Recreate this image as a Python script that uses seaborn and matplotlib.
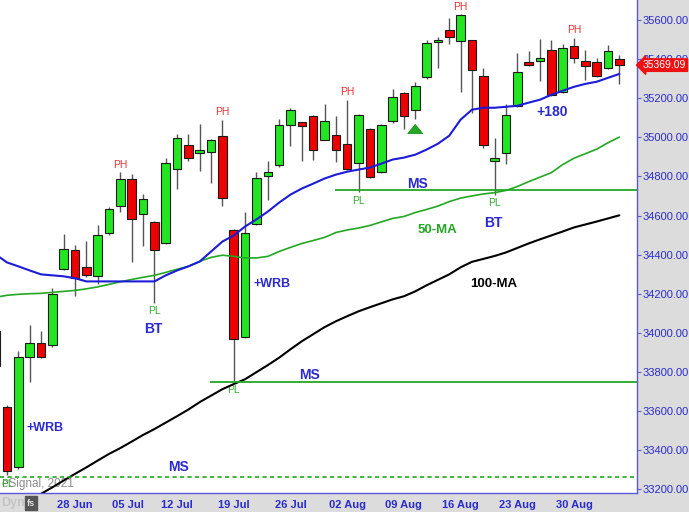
import matplotlib
matplotlib.use('Agg')
import matplotlib.pyplot as plt
import numpy as np
import pandas as pd
import seaborn as sns

sns.set_style('white')
plt.rcParams['font.family'] = ['Liberation Sans', 'DejaVu Sans']

# trading days, 17 Jun 2021 .. 03 Sep 2021 (05 Jul market holiday)
dates = pd.bdate_range('2021-06-17', '2021-09-03', freq='C', holidays=['2021-07-05'])

opens = [34010, 33620, 33313, 33877, 33947, 33938, 34328, 34426, 34338, 34290,
         34512, 34648, 34787, 34609, 34566, 34461, 34840, 34959, 34920, 34925,
         35008, 34525, 33981, 34559, 34804, 34857, 35061, 35078, 35110, 34988,
         35012, 34967, 34869, 35042, 34821, 35081, 35226, 35137, 35306, 35486,
         35549, 35493, 35498, 35311, 34877, 34920, 35161, 35384, 35391, 35447,
         35234, 35467, 35391, 35387, 35354, 35399]
highs = [34060, 33630, 33908, 34040, 34008, 34231, 34503, 34447, 34469, 34551,
         34642, 34821, 34814, 34712, 34570, 34894, 35017, 35017, 35069, 34992,
         35090, 34530, 34617, 34821, 34877, 35093, 35150, 35080, 35112, 35171,
         35107, 35192, 35120, 35045, 35070, 35246, 35230, 35285, 35498, 35512,
         35608, 35628, 35500, 35354, 34996, 35171, 35430, 35443, 35501, 35498,
         35476, 35507, 35447, 35404, 35472, 35421]
lows = [33740, 33272, 33305, 33750, 33870, 33930, 34320, 34188, 34287, 34248,
        34500, 34617, 34362, 34443, 34155, 34455, 34733, 34877, 34826, 34767,
        34651, 33750, 33975, 34550, 34678, 34850, 34954, 34881, 34882, 34985,
        34872, 34835, 34719, 34790, 34815, 35075, 35042, 35093, 35300, 35354,
        35476, 35234, 35124, 34945, 34707, 34865, 35155, 35362, 35289, 35210,
        35228, 35379, 35294, 35310, 35350, 35272]
closes = [33830, 33294, 33877, 33947, 33877, 34197, 34430, 34282, 34294, 34500,
          34631, 34787, 34580, 34682, 34423, 34869, 34996, 34894, 34933, 34988,
          34687, 33967, 34508, 34792, 34823, 35061, 35141, 35059, 34933, 35085,
          34937, 34838, 35115, 34795, 35064, 35206, 35107, 35263, 35484, 35500,
          35515, 35626, 35345, 34962, 34894, 35115, 35333, 35370, 35404, 35214,
          35456, 35405, 35365, 35314, 35443, 35369.09]

ma20 = [34401, 34360, 34340, 34319, 34299, 34294, 34289, 34279, 34263, 34263,
        34263, 34263, 34263, 34263, 34263, 34294, 34319, 34340, 34365, 34416,
        34467, 34498, 34544, 34580, 34620, 34666, 34707, 34738, 34763, 34789,
        34809, 34824, 34835, 34845, 34865, 34886, 34896, 34911, 34937, 34967,
        35008, 35090, 35141, 35151, 35151, 35156, 35161, 35177, 35192, 35217,
        35238, 35258, 35273, 35284, 35304, 35324]
ma50 = [34182, 34192, 34197, 34200, 34202, 34207, 34212, 34217, 34225, 34235,
        34248, 34261, 34273, 34284, 34294, 34309, 34325, 34340, 34365, 34386,
        34397, 34391, 34383, 34383, 34391, 34416, 34437, 34457, 34472, 34488,
        34513, 34526, 34536, 34549, 34567, 34585, 34595, 34615, 34631, 34648,
        34671, 34689, 34700, 34710, 34717, 34728, 34748, 34773, 34796, 34819,
        34860, 34893, 34916, 34939, 34972, 35001]
ma100 = [33040, 33075, 33110, 33146, 33177, 33210, 33245, 33279, 33312, 33347,
         33381, 33411, 33444, 33478, 33508, 33541, 33574, 33608, 33646, 33679,
         33712, 33738, 33763, 33799, 33835, 33873, 33916, 33957, 33993, 34029,
         34059, 34085, 34110, 34131, 34151, 34171, 34187, 34212, 34243, 34271,
         34299, 34335, 34363, 34378, 34393, 34411, 34434, 34457, 34478, 34498,
         34518, 34539, 34554, 34569, 34585, 34601]

ms_levels = [33750, 34729, 33263]
tick_labels = ['28 Jun', '05 Jul', '12 Jul', '19 Jul', '26 Jul', '02 Aug',
               '09 Aug', '16 Aug', '23 Aug', '30 Aug']
y_ticks = list(range(33200, 35601, 200))

ph_days = [10, 19, 30, 40, 50]
pl_days = [0, 13, 20, 31, 43]

df = pd.DataFrame({'date': dates, 'open': opens, 'high': highs, 'low': lows,
                   'close': closes, 'ma20': ma20, 'ma50': ma50, 'ma100': ma100})
df['x'] = np.arange(len(df)) - 1

GREEN = '#22e622'
RED = '#ee0000'
BLUE = '#1c1cd8'
MAGREEN = '#22a822'
AXBLUE = '#5a5ae0'
TXTBLUE = '#2a2ad0'

fig = plt.figure(figsize=(6.89, 5.12), dpi=100, facecolor='#dcdcdc')
ax = fig.add_axes([0, 19 / 512, 637 / 689, 493 / 512])
ax.set_facecolor('white')

# candles
up = df['close'] >= df['open']
ax.vlines(df['x'], df['low'], df['high'], color='#555555', lw=1, zorder=2)
ax.bar(df['x'], (df['close'] - df['open']).abs(),
       bottom=df[['open', 'close']].min(axis=1), width=0.76,
       color=np.where(up, GREEN, RED), edgecolor='#1a1a1a', linewidth=0.8, zorder=3)

# moving averages
sns.lineplot(data=df, x='x', y='ma100', ax=ax, color='black', lw=1.5, zorder=4)
sns.lineplot(data=df, x='x', y='ma50', ax=ax, color=MAGREEN, lw=1.2, zorder=4)
sns.lineplot(data=df, x='x', y='ma20', ax=ax, color=BLUE, lw=1.5, zorder=4)

# MS levels
ax.hlines(ms_levels[0], 17.9, 56, color=MAGREEN, lw=1.3, zorder=4)
ax.hlines(ms_levels[1], 28.9, 56, color=MAGREEN, lw=1.3, zorder=4)
ax.axhline(ms_levels[2], color=MAGREEN, lw=1.2, ls=(0, (2.5, 2)), zorder=4)

# PH / PL labels
for d in ph_days:
    ax.annotate('PH', (d, highs[d + 1]), xytext=(0, 2), textcoords='offset points',
                ha='center', va='bottom', color='#ee3333', fontsize=7.5)
for d in pl_days:
    ax.annotate('PL', (d, lows[d + 1]), xytext=(0, -2.5), textcoords='offset points',
                ha='center', va='top', color='#33aa33', fontsize=7.5)

bold = dict(ha='center', va='center', fontweight='bold', zorder=6)
ax.text(3.35, 33515, '+WRB', color=TXTBLUE, fontsize=9, **bold)
ax.text(23.4, 34250, '+WRB', color=TXTBLUE, fontsize=9, **bold)
ax.text(26.7, 33785, 'MS', color=TXTBLUE, fontsize=10, **bold)
ax.text(36.2, 34761, 'MS', color=TXTBLUE, fontsize=10, **bold)
ax.text(15.1, 33316, 'MS', color=TXTBLUE, fontsize=10, **bold)
ax.text(12.92, 34020, 'BT', color=TXTBLUE, fontsize=10, **bold)
ax.text(42.86, 34562, 'BT', color=TXTBLUE, fontsize=10, **bold)
ax.text(37.92, 34526, '50-MA', color=MAGREEN, fontsize=9.5, **bold)
ax.text(42.95, 34250, '100-MA', color='black', fontsize=9.5, **bold)
ax.text(48.06, 35130, '+180', color=TXTBLUE, fontsize=10, **bold)

# green up arrow
ax.annotate('', xy=(36, 35080), xytext=(36, 35012),
            arrowprops=dict(arrowstyle='simple,head_width=0.9,head_length=0.55,tail_width=0.45',
                            fc=MAGREEN, ec='#118811', lw=0.5, mutation_scale=12), zorder=6)

ax.text(0.003, 0.018, 'eSignal, 2021', transform=ax.transAxes, color='#8a8a8a',
        fontsize=8.5, va='center', ha='left', zorder=1)

# axes
ax.set_xlim(-0.62, 55.56)
ax.set_ylim(33181, 35702)
for s in ['top', 'left']:
    ax.spines[s].set_visible(False)
for s in ['right', 'bottom']:
    ax.spines[s].set_color(AXBLUE)
    ax.spines[s].set_linewidth(1)

ax.yaxis.tick_right()
ax.set_yticks(y_ticks)
ax.set_yticklabels([f'{v:.2f}' for v in y_ticks])
ax.tick_params(axis='y', colors=AXBLUE, labelcolor=TXTBLUE, labelsize=8, length=3,
               pad=1, direction='out')

tick_pos = []
for lab in tick_labels:
    d = pd.Timestamp(lab + ' 2021')
    i = int(dates.searchsorted(d)) - 1
    tick_pos.append(i if d in dates else i - 0.3)
ax.set_xticks(tick_pos)
ax.set_xticklabels(tick_labels, fontweight='bold')
ax.tick_params(axis='x', colors=AXBLUE, labelcolor=TXTBLUE, labelsize=8, length=3,
               pad=2, direction='out')
ax.set_xlabel('')
ax.set_ylabel('')

# last price tag
ax.text(1 + 6 / 637, closes[-1], f'{closes[-1]:.2f}', transform=ax.get_yaxis_transform(),
        color='white', fontsize=7.5, va='center', ha='left', clip_on=False, zorder=10,
        bbox=dict(boxstyle='larrow,pad=0.12', fc='#ee1111', ec='#ee1111'))

fig.text(1 / 689, 1 - 503 / 512, 'Dyn', color='#c4c4c4', fontsize=9, fontweight='bold',
         va='center', ha='left')
fig.text(31 / 689, 1 - 503 / 512, 'fs', color='#dddddd', fontsize=6.5, fontweight='bold',
         va='center', ha='center',
         bbox=dict(boxstyle='square,pad=0.25', fc='#555555', ec='#555555'))

fig.savefig('out.png', dpi=100, facecolor=fig.get_facecolor())
